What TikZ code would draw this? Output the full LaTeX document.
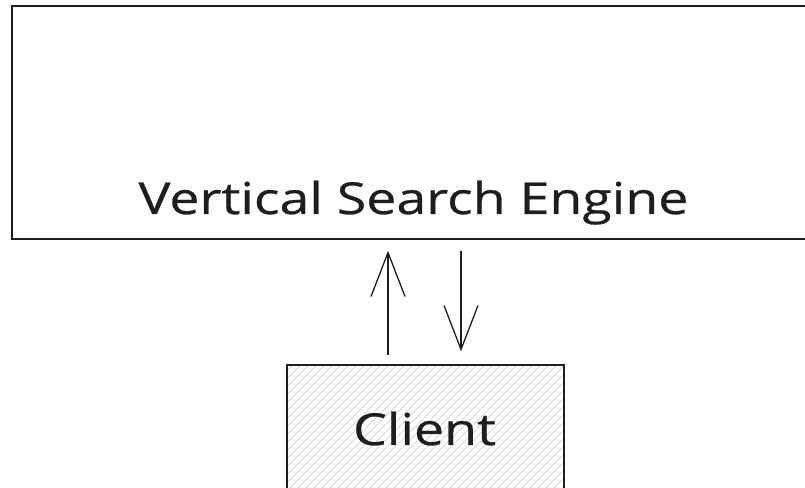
\documentclass[tikz,border=0pt]{standalone}
\usepackage{fontspec}
\setmainfont{Open Sans}[FakeStretch=1.22,FakeBold=0.6]
\usetikzlibrary{arrows.meta}
\definecolor{ink}{HTML}{1E1E1E}
\definecolor{hatch}{HTML}{D6D6D6}
\begin{document}
\begin{tikzpicture}[x=1pt,y=1pt,
  box/.style={draw=ink, line width=1.4pt, rectangle, inner sep=0pt},
  arr/.style={draw=ink, line width=1.3pt, -{Straight Barb[length=44pt,width=34pt,line width=1.3pt]}},
  lbl/.style={text=ink, font=\fontsize{44}{50}\selectfont, anchor=base, inner sep=0pt}]
\useasboundingbox (0,0) rectangle (805,487);
\clip (0,0) rectangle (805,487);
% client box with hatching
\node[box, minimum width=277pt, minimum height=160pt] (client) at (425.5,42) {};
\begin{scope}
  \clip (287,122) rectangle (564,-38);
  \foreach \i in {-300,-292,...,300} {
    \draw[hatch, line width=0.9pt] (287+\i,-40) -- (287+\i+170,130);
  }
\end{scope}
\node[box, minimum width=277pt, minimum height=160pt] at (client.center) {};
% engine box
\node[box, minimum width=818pt, minimum height=233pt] (engine) at (421,364.5) {};
\node[lbl] (enginelabel) at (413.5,273) {Vertical Search Engine};
\node[lbl] (clientlabel) at (424.5,42) {Client};
% arrows
\coordinate (upx) at (388,0);
\coordinate (downx) at (461,0);
\draw[arr, shorten <=9pt, shorten >=11pt] (client.north -| upx) -- (engine.south -| upx);
\draw[arr, shorten <=11pt, shorten >=13pt] (engine.south -| downx) -- (client.north -| downx);
\end{tikzpicture}
\end{document}
